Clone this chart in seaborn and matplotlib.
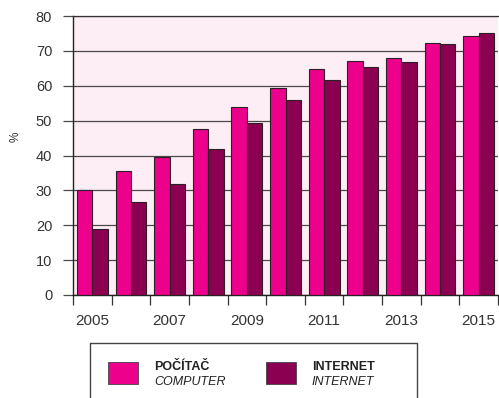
import matplotlib
matplotlib.use("Agg")
import matplotlib.pyplot as plt
from matplotlib.patches import Rectangle
import seaborn as sns
import pandas as pd
import numpy as np

years = [2005, 2006, 2007, 2008, 2009, 2010, 2011, 2012, 2013, 2014, 2015]
computer = [30.0, 35.6, 39.6, 47.7, 54.0, 59.3, 64.7, 67.2, 68.0, 72.3, 74.3]
internet = [18.9, 26.6, 31.9, 41.8, 49.2, 55.9, 61.6, 65.3, 66.9, 72.1, 75.0]
series_names = ["POČÍTAČ", "INTERNET"]
series_sub = ["COMPUTER", "INTERNET"]
colors = ["#ec008c", "#8b0050"]
year_labels = ["2005", "2007", "2009", "2011", "2013", "2015"]

df = pd.DataFrame({
    "year": [str(y) for y in years] * 2,
    "value": computer + internet,
    "series": [series_names[0]] * len(years) + [series_names[1]] * len(years),
})

sns.set_style("white")
plt.rcParams["font.family"] = ["Liberation Sans", "DejaVu Sans"]

W, H = 499, 398
fig = plt.figure(figsize=(W / 100, H / 100), dpi=100)
ax = fig.add_axes([73 / W, (H - 295) / H, (498 - 73) / W, (295 - 16) / H])
ax.set_facecolor("#fdedf4")

sns.barplot(data=df, x="year", y="value", hue="series", palette=colors,
            width=0.8, saturation=1, edgecolor="#2a2026", linewidth=0.8,
            legend=False, ax=ax, zorder=3)

ax.set_xlim(-0.5, len(years) - 0.5)
ax.set_ylim(0, 80)
ax.set_yticks(np.arange(0, 81, 10))
ax.yaxis.grid(True, color="#4a4a4a", linewidth=0.9, zorder=1)
ax.set_axisbelow(True)
ax.tick_params(axis="y", length=7.5, width=0.9, color="#4a4a4a",
               labelsize=10.5, pad=7.5, labelcolor="#333333", left=True)

# x ticks: labels at odd years, tick marks at slot boundaries
label_pos = [years.index(int(l)) for l in year_labels]
ax.set_xticks(label_pos)
ax.set_xticklabels(year_labels)
ax.tick_params(axis="x", which="major", length=0, labelsize=11, pad=13.5,
               labelcolor="#333333", bottom=True)
ax.set_xticks(np.arange(-0.5, len(years), 1.0), minor=True)
ax.tick_params(axis="x", which="minor", length=7.5, width=0.9,
               color="#333333", bottom=True)

ax.set_xlabel("")
ax.set_ylabel("%", fontsize=8.5, color="#333333")
ax.yaxis.set_label_coords((22 - 73) / (498 - 73), (295 - 137) / (295 - 16))

for s in ["left", "bottom"]:
    ax.spines[s].set_color("#222222")
    ax.spines[s].set_linewidth(1.0)
    ax.spines[s].set_visible(True)
ax.spines["top"].set_visible(True)
ax.spines["top"].set_color("#333333")
ax.spines["top"].set_linewidth(0.9)
ax.spines["right"].set_visible(False)

# legend box (open at the bottom)
def fx(px):
    return px / W

def fy(py):
    return (H - py) / H

box_l, box_r, box_t = 90, 417, 343
fig.add_artist(plt.Line2D([fx(box_l), fx(box_l), fx(box_r), fx(box_r)],
                          [fy(H + 5), fy(box_t), fy(box_t), fy(H + 5)],
                          color="#444444", linewidth=1.0))

patch_x = [108, 266]
text_x = [154, 312]
for i in range(2):
    fig.add_artist(Rectangle((fx(patch_x[i]), fy(384)), 30 / W, 22 / H,
                             facecolor=colors[i], edgecolor="#444444",
                             linewidth=0.6))
    fig.text(fx(text_x[i]), fy(369.5), series_names[i], fontsize=9,
             fontweight="bold", ha="left", va="baseline", color="#222222")
    fig.text(fx(text_x[i]), fy(385), series_sub[i], fontsize=9,
             fontstyle="italic", ha="left", va="baseline", color="#222222")

fig.savefig("out.png", dpi=100)
